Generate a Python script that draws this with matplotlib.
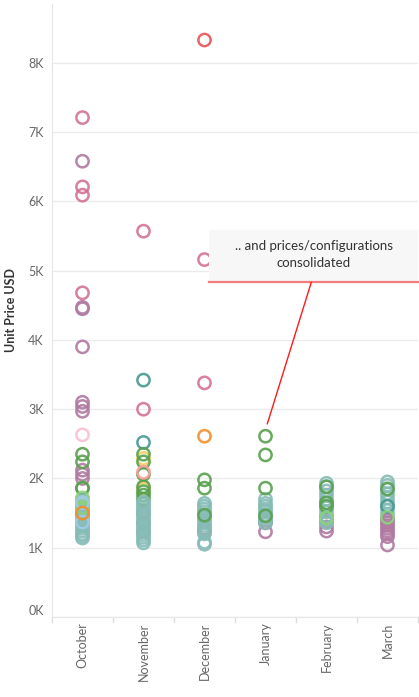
"""Unit price per configuration, by month — open-circle strip plot with a callout."""
import matplotlib
matplotlib.use("Agg")
import matplotlib.pyplot as plt
from matplotlib.patches import Rectangle
from matplotlib.ticker import FuncFormatter, MultipleLocator

MONTHS = ["October", "November", "December", "January", "February", "March"]

# price in USD, series key per point (drawing order = list order)
OCT_PRICE = [7210, 6210, 6090, 4680,
             6580, 4470, 4450, 3900, 3100, 3040, 2970, 2120, 2060, 2000,
             2630, 2350, 2240, 1860, 1860,
             1140, 1170, 1200, 1240, 1280, 1320, 1360, 1400, 1440, 1480, 1520, 1560, 1600, 1640, 1680,
             1720, 1580, 1650, 1370, 1500]
OCT_SERIES = ["pink"] * 4 + ["purple"] * 10 + ["lpink", "green", "green", "green", "green"] \
    + ["teal"] * 15 + ["lgreen", "lgreen", "lblue", "lblue", "orange"]

NOV_PRICE = [5570, 3000, 1500, 1360, 1230,
             3420, 2520, 2290, 1850, 2350, 2240, 2060, 1880, 1810, 1760, 1700, 2090,
             1070, 1110, 1150, 1190, 1230, 1270, 1310, 1350, 1390, 1430, 1470, 1510, 1550, 1590, 1630, 1660]
NOV_SERIES = ["pink"] * 5 + ["dteal", "dteal", "yellow", "yellow"] + ["green"] * 7 + ["salmon"] \
    + ["teal"] * 16

DEC_PRICE = [8330, 5160, 3380, 1230, 1280, 2610,
             1050, 1080, 1200, 1240, 1280, 1320, 1360, 1400, 1440, 1480, 1520, 1560, 1600, 1640,
             1980, 1860, 1470]
DEC_SERIES = ["red", "pink", "pink", "pink", "pink", "orange"] + ["teal"] * 14 + ["green"] * 3

JAN_PRICE = [1230, 1360, 1400,
             1360, 1400, 1440, 1480, 1520, 1560, 1600, 1640, 1700,
             2610, 2340, 1860, 1460]
JAN_SERIES = ["purple"] * 3 + ["teal"] * 9 + ["green"] * 4

FEB_PRICE = [1240, 1300, 1370, 1450,
             1930, 1880, 1820, 1760, 1700, 1640, 1580, 1520, 1460, 1400, 1360,
             1880, 1650, 1600, 1430]
FEB_SERIES = ["purple"] * 4 + ["teal"] * 11 + ["green"] * 3 + ["lgreen"]

MAR_PRICE = [1950, 1900, 1840, 1780, 1720, 1660, 1600, 1540, 1480, 1420,
             1040, 1160, 1200, 1240, 1280, 1320, 1360, 1400,
             1600, 1850, 1440]
MAR_SERIES = ["teal"] * 10 + ["purple"] * 8 + ["dteal", "green", "lgreen"]

PRICES = [OCT_PRICE, NOV_PRICE, DEC_PRICE, JAN_PRICE, FEB_PRICE, MAR_PRICE]
SERIES = [OCT_SERIES, NOV_SERIES, DEC_SERIES, JAN_SERIES, FEB_SERIES, MAR_SERIES]

PALETTE = {
    "pink": "#d37295", "purple": "#b07aa1", "lpink": "#fabfd2", "red": "#e15759",
    "salmon": "#ff9d9a", "teal": "#86bcb6", "dteal": "#499894", "green": "#59a14f",
    "lgreen": "#8cd17d", "lblue": "#a0cbe8", "orange": "#f28e2b", "yellow": "#f1ce63",
}

NOTE = ".. and prices/configurations\nconsolidated"

plt.rcParams["font.family"] = ["Lato", "DejaVu Sans"]

fig = plt.figure(figsize=(4.19, 6.97), dpi=100)
ax = fig.add_axes([52 / 419, 80 / 697, 366 / 419, 613 / 697])

for i, (prices, keys) in enumerate(zip(PRICES, SERIES)):
    for p, k in zip(prices, keys):
        ax.scatter(i, p, s=78, facecolors="none", edgecolors=PALETTE[k],
                   linewidths=1.8, alpha=0.9, zorder=3)

ax.set_xlim(-0.5, len(MONTHS) - 0.5)
ax.set_ylim(0, 8850)
ax.yaxis.set_major_locator(MultipleLocator(1000))
ax.yaxis.set_major_formatter(FuncFormatter(lambda v, _: f"{v / 1000:.0f}K"))
ax.grid(axis="y", color="#ebebeb", lw=1, zorder=0)
ax.tick_params(axis="y", length=0, labelsize=9, labelcolor="#666666", pad=6)

ax.set_xticks(range(len(MONTHS)))
ax.set_xticklabels(MONTHS, rotation=90, fontsize=9, color="#666666", va="top")
ax.tick_params(axis="x", length=0, pad=4)
for b in range(len(MONTHS) + 1):
    ax.plot([b - 0.5, b - 0.5], [0, -70], color="#dddddd", lw=1, clip_on=False)

for s in ("top", "right"):
    ax.spines[s].set_visible(False)
for s in ("left", "bottom"):
    ax.spines[s].set_color("#e6e6e6")

# nudge the 0K label up like the original
for lab in ax.get_yticklabels():
    if lab.get_text() == "0K":
        lab.set_va("bottom")

ax.set_ylabel("Unit Price USD", fontsize=9, color="#333333", fontweight="bold", labelpad=8)

# callout
ax.add_patch(Rectangle((2.08, 4850), 3.42, 740, facecolor="#f7f7f7", edgecolor="none",
                       zorder=4, clip_on=False))
ax.plot([2.07, 5.5], [4840, 4840], color="#f47c7c", lw=1.6, zorder=5, clip_on=False)
ax.plot([3.75, 3.03], [4830, 2790], color="#ff1a1a", lw=1, zorder=5)
ax.text(3.79, 5230, NOTE, ha="center", va="center", fontsize=9.5, color="#333333",
        linespacing=1.45, zorder=6)

fig.savefig("out.png", dpi=100)
